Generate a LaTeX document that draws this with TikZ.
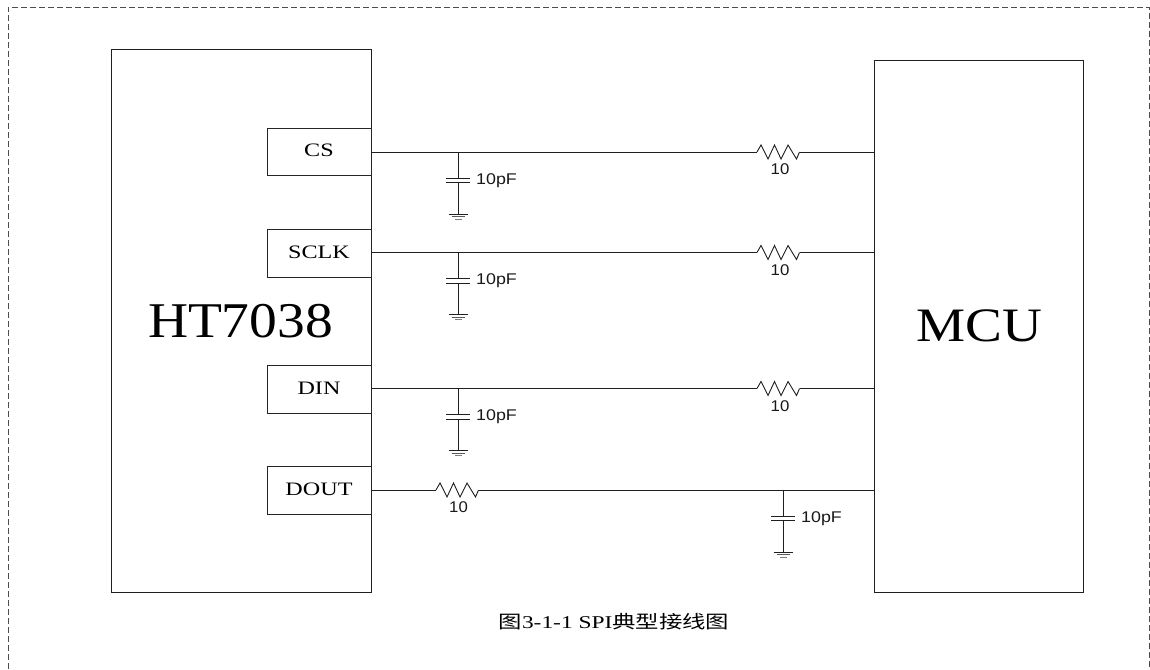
\documentclass[tikz,border=0pt]{standalone}
\usepackage{fontspec}
\setmainfont{Liberation Serif}
\newfontfamily\lblfont{Liberation Sans}
\newfontfamily\cjk{Noto Sans CJK SC}
\tikzset{
  x=1pt,y=-1pt,
  wire/.style={draw=black!88,line width=0.9pt},
  chip/.style={draw=black!88,line width=1pt,inner sep=0,anchor=north west},
  pinbox/.style={draw=black!85,line width=0.9pt,inner sep=0,anchor=north west,minimum width=104pt,minimum height=47.5pt},
  pinlabel/.style={inner sep=0,font=\fontsize{19}{21}\selectfont},
  val/.style={inner sep=0,font=\lblfont\fontsize{15.5}{17}\selectfont,text=black!90},
}
\newcommand{\valw}[1]{\scalebox{1.15}[1]{#1}}
\newcommand{\pinw}[1]{\scalebox{1.27}[1]{#1}}
\newcommand{\capgnd}[4]{% x, ytop, name, label
  \coordinate (#3t) at (#1,#2);
  \coordinate (#3a) at (#1,#2+26);
  \coordinate (#3b) at (#1,#2+30.5);
  \coordinate (#3g) at (#1,#2+62);
  \draw[wire] (#3t) -- (#3a);
  \draw[wire] (#3b) -- (#3g);
  \draw[wire] ([xshift=-12pt]#3a) -- ([xshift=12pt]#3a);
  \draw[wire] ([xshift=-12pt]#3b) -- ([xshift=12pt]#3b);
  \draw[wire] ([xshift=-9.5pt]#3g) -- ([xshift=9.5pt]#3g);
  \draw[wire,draw=black!65] ([xshift=-6.5pt,yshift=-2.5pt]#3g) -- ([xshift=6.5pt,yshift=-2.5pt]#3g);
  \draw[wire,draw=black!50] ([xshift=-3.5pt,yshift=-5pt]#3g) -- ([xshift=3.5pt,yshift=-5pt]#3g);
  \node[val,anchor=west] (#3v) at (#1+18,#2+28.5) {\valw{#4}};
}
\newcommand{\resist}[3]{% x, y, end coordinate name
  \draw[wire,line join=miter] (#1,#2) -- ++(4,-7) -- ++(7,14) -- ++(6.5,-14) -- ++(6.5,14) -- ++(7,-14) -- ++(8.5,14) -- ++(3,-7) coordinate (#3);
}
\begin{document}
\begin{tikzpicture}
\useasboundingbox (0,0) rectangle (1150,669);
\draw[draw=black!70,line width=0.8pt,dash pattern=on 6pt off 3pt] (8,669) -- (8,7) -- (1149,7) -- (1149,669);
\node[chip,minimum width=260.5pt,minimum height=542.5pt] (ht) at (110.5,49.5) {};
\node[inner sep=0,font=\fontsize{50}{52}\selectfont] (htl) at (240.5,321) {\scalebox{1.11}[1]{HT7038}};
\node[chip,minimum width=209pt,minimum height=532pt] (mcu) at (874,60) {};
\node[inner sep=0,font=\fontsize{48}{50}\selectfont] (mcul) at (979,326) {\scalebox{1.15}[1]{MCU}};
\node[pinbox] (cs) at (267,127.5) {};
\node[pinbox] (sclk) at (267,229) {};
\node[pinbox] (din) at (267,365) {};
\node[pinbox] (dout) at (267,466) {};
\node[pinlabel] (csl) at (319,150.5) {\pinw{CS}};
\node[pinlabel] (sclkl) at (319,252) {\pinw{SCLK}};
\node[pinlabel] (dinl) at (319,388) {\pinw{DIN}};
\node[pinlabel] (doutl) at (319,489) {\pinw{DOUT}};
% CS
\draw[wire] (371,152) -- (757,152);
\resist{757}{152}{r1e}
\draw[wire] (r1e) -- (874,152);
\node[val] (rv1) at (780,169.5) {\scalebox{1.08}[1]{10}};
\capgnd{458}{152}{c1}{10pF}
% SCLK
\draw[wire] (371,252.5) -- (757,252.5);
\resist{757}{252.5}{r2e}
\draw[wire] (r2e) -- (874,252.5);
\node[val] (rv2) at (780,270) {\scalebox{1.08}[1]{10}};
\capgnd{458}{252.5}{c2}{10pF}
% DIN
\draw[wire] (371,388.5) -- (757,388.5);
\resist{757}{388.5}{r3e}
\draw[wire] (r3e) -- (874,388.5);
\node[val] (rv3) at (780,406) {\scalebox{1.08}[1]{10}};
\capgnd{458}{388.5}{c3}{10pF}
% DOUT
\draw[wire] (371,490) -- (436,490);
\resist{436}{490}{r4e}
\draw[wire] (r4e) -- (874,490);
\node[val] (rv4) at (458.5,507.5) {\scalebox{1.08}[1]{10}};
\capgnd{783}{490}{c4}{10pF}
\node[inner sep=0,font=\fontsize{18}{20}\selectfont] (cap) at (614,621.5) {\scalebox{1.3}[1]{{\cjk 图}3-1-1 SPI{\cjk 典型接线图}}};
\end{tikzpicture}
\end{document}
